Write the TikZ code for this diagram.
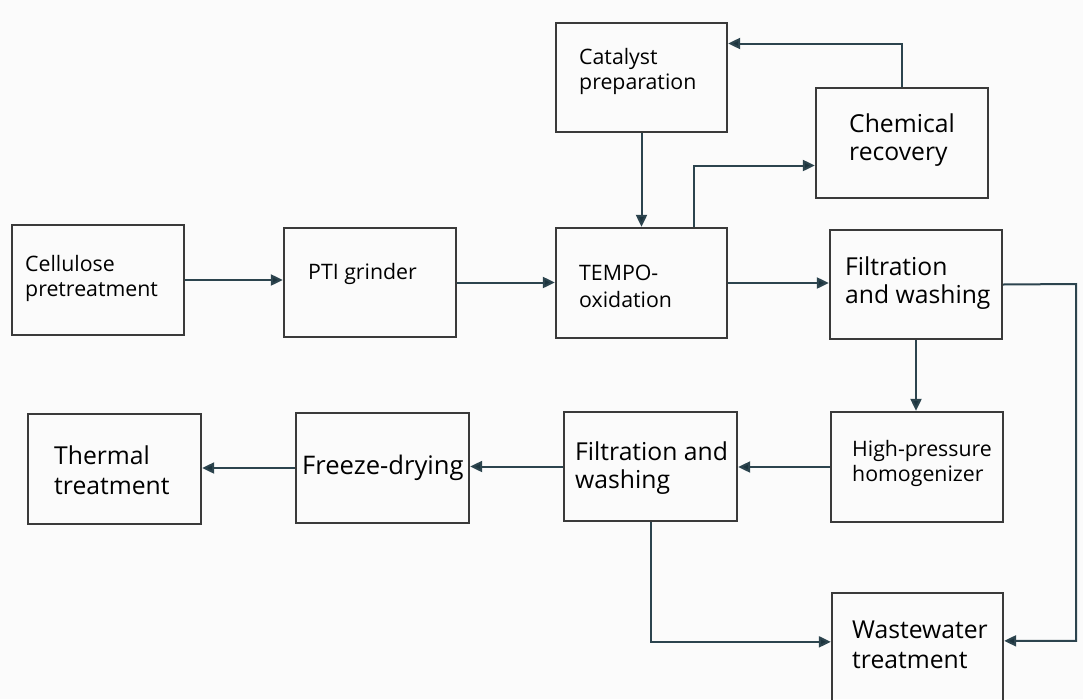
\documentclass[tikz,border=0pt]{standalone}
\usepackage{fontspec}
\setmainfont{Open Sans}
\usetikzlibrary{arrows.meta,calc}
\definecolor{bgc}{RGB}{251,251,251}
\definecolor{boxc}{RGB}{58,58,58}
\definecolor{arrc}{RGB}{44,68,78}
\definecolor{tipc}{RGB}{28,52,62}
\tikzset{
  box/.style={draw=boxc, line width=2.3pt, rectangle, inner sep=0pt, fill=none},
  lbl/.style={anchor=west, inner sep=0pt, align=left, text=black},
  smalltxt/.style={lbl, font=\fontsize{21.3}{25}\selectfont},
  largetxt/.style={lbl, font=\fontsize{24.7}{28}\selectfont},
  flow/.style={draw=arrc, line width=2pt, -{Triangle[length=12pt,width=11pt,fill=tipc]}},
}
\begin{document}
\begin{tikzpicture}[x=1pt,y=-1pt]
\fill[bgc] (0,0) rectangle (1083,699);
\useasboundingbox (0,0) rectangle (1083,699);
% boxes
\node[box, minimum width=171pt, minimum height=109pt] (cat) at (641.5,77.5) {};
\node[box, minimum width=172pt, minimum height=110pt] (chem) at (902,143) {};
\node[box, minimum width=172pt, minimum height=110pt] (cel) at (98,280) {};
\node[box, minimum width=172pt, minimum height=109pt] (pti) at (370,282.5) {};
\node[box, minimum width=171pt, minimum height=110pt] (tempo) at (641.5,283) {};
\node[box, minimum width=172pt, minimum height=109pt] (filt1) at (916,284.5) {};
\node[box, minimum width=173pt, minimum height=110pt] (therm) at (114.5,469) {};
\node[box, minimum width=173pt, minimum height=110pt] (freeze) at (382.5,468) {};
\node[box, minimum width=173pt, minimum height=109pt] (filt2) at (650.5,466.5) {};
\node[box, minimum width=172pt, minimum height=110pt] (hp) at (917,467) {};
\node[box, minimum width=171pt, minimum height=127pt] (ww) at (917.5,656.5) {};
% labels
\node[smalltxt] (tcat) at (579,71.5) {Catalyst\\preparation};
\node[largetxt] (tchem) at (849,140) {Chemical\\recovery};
\node[smalltxt] (tcel) at (25,278.5) {Cellulose\\pretreatment};
\node[smalltxt] (tpti) at (308,274) {PTI grinder};
\node[smalltxt, font=\fontsize{21.3}{27}\selectfont] (ttempo) at (579,286) {TEMPO-\\oxidation};
\node[largetxt] (tfilt1) at (845,283) {Filtration\\and washing};
\node[largetxt, font=\fontsize{24.7}{30}\selectfont] (ttherm) at (54,470.5) {Thermal\\treatment};
\node[largetxt, font=\fontsize{25.6}{30}\selectfont] (tfreeze) at (302,468) {Freeze-drying};
\node[largetxt] (tfilt2) at (575,468) {Filtration and\\washing};
\node[smalltxt] (thp) at (852,463.5) {High-pressure\\homogenizer};
\node[largetxt, font=\fontsize{24.7}{30}\selectfont] (tww) at (852,645) {Wastewater\\treatment};
% connectors
\coordinate (chemin) at ([yshift=-22.5pt]chem.west);
\coordinate (catin) at ([yshift=34pt]cat.east);
\coordinate (tempoup) at ([xshift=52.5pt]tempo.north);
\coordinate (filt1out) at ([yshift=0pt]filt1.east);
\coordinate (wwright) at ([yshift=-49pt]ww.north east);
\coordinate (wwleft) at ([yshift=-50pt]ww.north west);
\coordinate (rbend) at (1076,284);
\path[flow] (cel.east) -- (pti.west |- cel.east);
\path[flow] (pti.east) -- (tempo.west |- pti.east);
\path[flow] (tempo.east) -- (filt1.west |- tempo.east);
\path[flow] (cat.south) -- (cat.south |- tempo.north);
\path[flow] (tempoup) |- (chemin);
\path[flow] (chem.north) |- (catin);
\path[flow] (filt1.south) -- (filt1.south |- hp.north);
\path[flow] (filt1out) -- (rbend) |- (wwright);
\path[flow] (hp.west) -- (filt2.east |- hp.west);
\path[flow] (filt2.west) -- (freeze.east |- filt2.west);
\path[flow] (freeze.west) -- (therm.east |- freeze.west);
\path[flow] (filt2.south) |- (wwleft);
\end{tikzpicture}
\end{document}
